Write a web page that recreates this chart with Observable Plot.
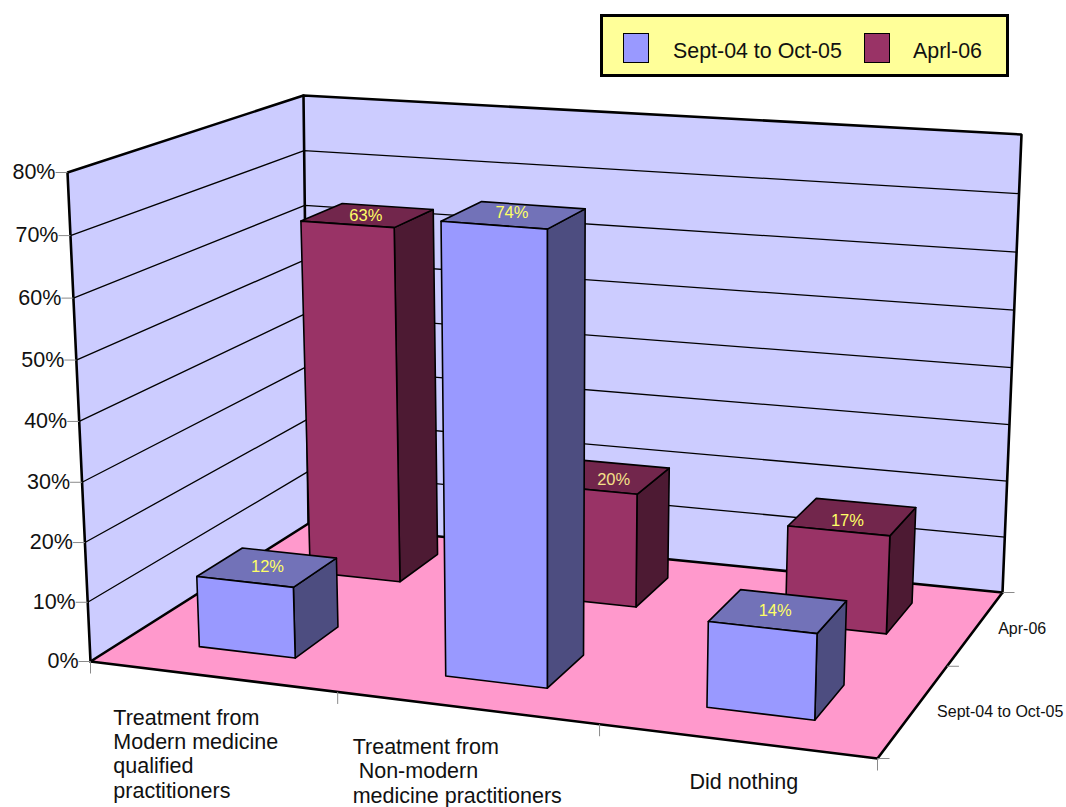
<!DOCTYPE html>
<html>
<head>
<meta charset="utf-8">
<script src="https://cdn.jsdelivr.net/npm/d3@7"></script>
<script src="https://cdn.jsdelivr.net/npm/@observablehq/plot@0.6"></script>
<style>
  html, body { margin: 0; padding: 0; background: #fff; }
  #wrap { position: relative; width: 1066px; height: 807px; overflow: hidden; font-family: "Liberation Sans", Arial, sans-serif; }
  #wrap svg { display: block; }
  #legend { position: absolute; left: 600px; top: 14px; width: 403px; height: 57px; background: #ffff99; border: 3px solid #000; color: #111; font-size: 21.4px; }
  #legend .sw { position: absolute; top: 16px; width: 24px; height: 28px; border: 1px solid #000; }
  #legend .lb { position: absolute; top: 22px; line-height: 24px; white-space: nowrap; }
</style>
</head>
<body>
<div id="wrap">
  <div id="legend"></div>
</div>
<script>
// ---------- data ----------
const categories = ["Treatment from\nModern medicine\nqualified\npractitioners", "Treatment from\n Non-modern\nmedicine practitioners", "Did nothing"];
const seriesNames = ["Sept-04 to Oct-05", "Apr-06"];
const legendNames = ["Sept-04 to Oct-05", "Aprl-06"];
const sept04ToOct05 = [12, 74, 14];
const apr06 = [63, 20, 17];
const yTicks = [0, 10, 20, 30, 40, 50, 60, 70, 80];

// ---------- styles ----------
const wallFill = "#ccccff", floorFill = "#ff99cc", tickGrey = "#8a8a8a", valueInk = "#ffff66";
const seriesFaces = [
  {front: "#9999ff", top: "#7272b8", side: "#4d4d80"},
  {front: "#993366", top: "#72264c", side: "#4d1a33"}
];

// ---------- 3-D box projection (u along categories, d along depth, w in percent) ----------
const box = {
  fl: [90, 661], bl: [308, 523], br: [1002, 592], fr: [877, 758],
  rise: {fl: [-23, -489], bl: [-5, -428], br: [19, -458], fr: [10, -525]}
};
const warpU = u => u / (1 + 0.092 * (1 - u));
const warpD = d => d * 1.25 / (1 + 0.25 * d);
const warpW = w => w / (1 + 0.037 * (1 - w));
const mix = (a, b, t) => a + (b - a) * t;
const bilinear = (fl, fr, bl, br, s, t) => mix(mix(fl, fr, s), mix(bl, br, s), t);
function project(u, d, w, isBar = false) {
  const s = warpU(u), t = warpD(d), r = box.rise, k = warpW(w / 80);
  const x = bilinear(box.fl[0], box.fr[0], box.bl[0], box.br[0], s, t);
  const y = bilinear(box.fl[1], box.fr[1], box.bl[1], box.br[1], s, t);
  const lean = isBar ? (x - 547) * 0.05 : bilinear(r.fl[0], r.fr[0], r.bl[0], r.br[0], s, t);
  const up = bilinear(r.fl[1], r.fr[1], r.bl[1], r.br[1], s, t);
  return [x + lean * k, y + up * k];
}

// ---------- faces ----------
const barHalfWidth = 0.066;
const rows = [[0.141, 0.335], [0.651, 0.866]];
const valueNudge = [[[0, 0], [-2, -2], [-3, 0]], [[-2, 1], [8, 3], [-5, 4]]];
const faces = [];
function addFace(id, fill, corners) {
  [...corners, corners[0]].forEach(p => faces.push({id, fill, x: p[0], y: p[1]}));
}
const seriesValues = [sept04ToOct05, apr06];
const valueLabels = [];
[1, 0].forEach(row => {
  categories.forEach((_, c) => {
    const v = seriesValues[row][c], col = seriesFaces[row];
    const u0 = (c + 0.5) / 3 - barHalfWidth, u1 = (c + 0.5) / 3 + barHalfWidth;
    const [d0, d1] = rows[row];
    const P = (u, d, w) => project(u, d, w, true);
    const id = `bar-${row}-${c}`;
    addFace(id + "-side", col.side, [P(u1, d0, 0), P(u1, d1, 0), P(u1, d1, v), P(u1, d0, v)]);
    addFace(id + "-top", col.top, [P(u0, d0, v), P(u1, d0, v), P(u1, d1, v), P(u0, d1, v)]);
    addFace(id + "-front", col.front, [P(u0, d0, 0), P(u1, d0, 0), P(u1, d0, v), P(u0, d0, v)]);
    const lab = P((u0 + u1) / 2, (d0 + d1) / 2, v);
    const n = valueNudge[row][c];
    valueLabels.push({x: lab[0] + n[0], y: lab[1] + n[1], text: v + "%", ink: v === 20 ? "#f5e08a" : valueInk});
  });
});

addFace("wall-left", wallFill, [project(0, 0, 0), project(0, 1, 0), project(0, 1, 80), project(0, 0, 80)]);
const wallFaces = faces.splice(faces.length - 5, 5);
addFace("wall-back", wallFill, [project(0, 1, 0), project(1, 1, 0), project(1, 1, 80), project(0, 1, 80)]);
wallFaces.push(...faces.splice(faces.length - 5, 5));
addFace("floor", floorFill, [project(0, 0, 0), project(1, 0, 0), project(1, 1, 0), project(0, 1, 0)]);
const floorFaces = faces.splice(faces.length - 5, 5);

const toPath = (id, pts) => pts.map(p => ({id, x: p[0], y: p[1]}));
const grid = yTicks.filter(t => t > 0 && t < 80).flatMap(t =>
  toPath("g" + t, [project(0, 0, t), project(0, 1, t), project(1, 1, t)]));
const frame = [
  ...toPath("top", [project(0, 0, 0), project(0, 0, 80), project(0, 1, 80), project(1, 1, 80), project(1, 1, 0)]),
  ...toPath("corner", [project(0, 1, 80), project(0, 1, 0)]),
  ...toPath("floor", [project(0, 0, 0), project(1, 0, 0), project(1, 1, 0), project(0, 1, 0), project(0, 0, 0)])
];

// ---------- ticks and labels ----------
const tickLen = 12;
const yTickRows = yTicks.map(t => { const p = project(0, 0, t); return {x: p[0], y: p[1], text: t + "%"}; });
const xTickRows = [0, 1, 2, 3].map(i => { const p = project(i / 3, 0, 0); return {x: p[0], y: p[1]}; });
const dTickRows = [0, 0.5, 1].map(d => { const p = project(1, d, 0); return {x: p[0], y: p[1]}; });
const catShift = [[-99, 31], [-114, 29], [-47, 31]];
const catRows = categories.map((text, i) => {
  const p = project((i + 0.5) / 3, 0, 0);
  return {x: p[0] + catShift[i][0], y: p[1] + catShift[i][1], text};
});
const depthShift = [[86, 2], [46, 1]];
const depthRows = seriesNames.map((text, i) => {
  const p = project(1, 0.25 + i * 0.5, 0);
  return {x: p[0] + depthShift[i][0], y: p[1] + depthShift[i][1], text};
});

const font = "Liberation Sans";
const chart = Plot.plot({
  width: 1066, height: 807, margin: 0,
  x: {domain: [0, 1066], range: [0, 1066], axis: null},
  y: {domain: [0, 807], range: [0, 807], axis: null},
  color: {type: "identity"},
  marks: [
    Plot.line(wallFaces, {x: "x", y: "y", z: "id", fill: "fill", stroke: "none"}),
    Plot.line(grid, {x: "x", y: "y", z: "id", stroke: "#000", strokeWidth: 1.3}),
    Plot.line(floorFaces, {x: "x", y: "y", z: "id", fill: "fill", stroke: "none"}),
    Plot.line(frame, {x: "x", y: "y", z: "id", stroke: "#000", strokeWidth: 2.6, strokeLinejoin: "miter"}),
    Plot.link(yTickRows, {x1: d => d.x - tickLen, x2: "x", y1: "y", y2: "y", stroke: tickGrey, strokeWidth: 1}),
    Plot.link(xTickRows, {x1: "x", x2: "x", y1: "y", y2: d => d.y + tickLen, stroke: tickGrey, strokeWidth: 1}),
    Plot.link(dTickRows, {x1: "x", x2: d => d.x + tickLen, y1: "y", y2: "y", stroke: tickGrey, strokeWidth: 1}),
    Plot.line(faces, {x: "x", y: "y", z: "id", fill: "fill", stroke: "#000", strokeWidth: 1.6, strokeLinejoin: "round"}),
    Plot.text(valueLabels, {x: "x", y: "y", text: "text", fill: "ink", fontSize: 16.5, fontFamily: font}),
    Plot.text(yTickRows, {x: "x", y: "y", text: "text", dx: -12, textAnchor: "end", fill: "#111", fontSize: 21.5, fontFamily: font}),
    Plot.text(catRows, {x: "x", y: "y", text: "text", textAnchor: "start", lineAnchor: "top", lineHeight: 1.13, fill: "#111", fontSize: 21.5, fontFamily: font}),
    Plot.text(depthRows, {x: "x", y: "y", text: "text", fill: "#111", fontSize: 16, fontFamily: font})
  ]
});
const wrap = document.getElementById("wrap");
wrap.insertBefore(chart, wrap.firstChild);

// ---------- legend ----------
const legend = document.getElementById("legend");
const swatchLeft = [20, 261], labelLeft = [70, 310];
legendNames.forEach((name, i) => {
  const sw = document.createElement("div");
  sw.className = "sw"; sw.style.left = swatchLeft[i] + "px"; sw.style.background = seriesFaces[i].front;
  legend.appendChild(sw);
  const lb = document.createElement("div");
  lb.className = "lb"; lb.style.left = labelLeft[i] + "px"; lb.textContent = name;
  legend.appendChild(lb);
});
</script>
</body>
</html>
